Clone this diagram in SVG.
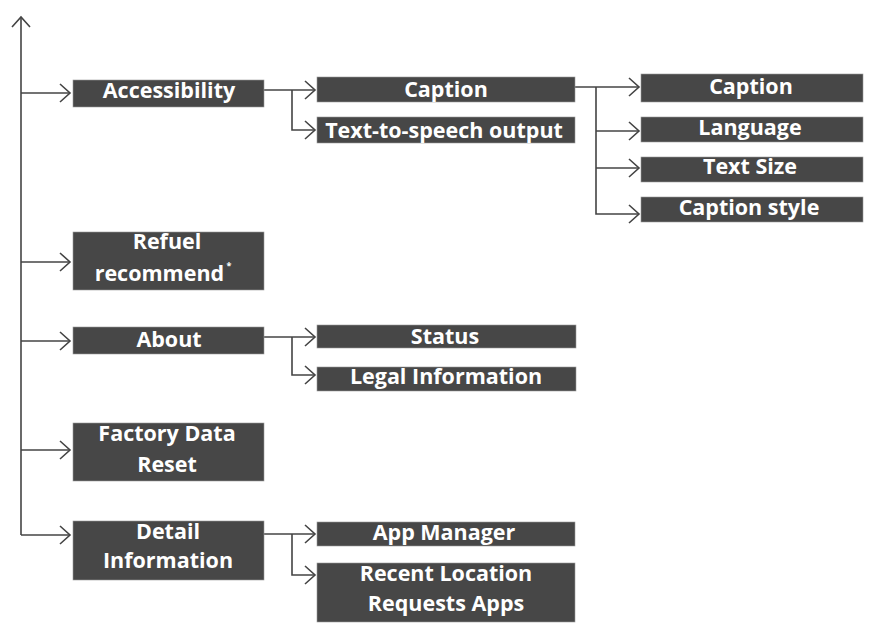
<svg xmlns="http://www.w3.org/2000/svg" width="870" height="626" viewBox="0 0 870 626">
<defs>
<marker id="arr" markerUnits="userSpaceOnUse" markerWidth="24" markerHeight="24" viewBox="-12 -12 24 24" refX="0" refY="0" orient="auto">
<path d="M-10,-9 L0,0 L-10,9" fill="none" stroke="#444" stroke-width="1.6"/>
</marker>
</defs>
<style>
.b{fill:#474747;stroke:#9a9a9a;stroke-width:0.6}
.t{fill:#fff;font-family:"Open Sans","Noto Sans","DejaVu Sans",sans-serif;font-weight:bold;font-size:21.5px;text-anchor:middle}
.c{fill:none;stroke:#444;stroke-width:1.6}
.a{marker-end:url(#arr)}
</style>
<rect width="870" height="626" fill="#fff"/>
<g id="connectors">
<path class="c a" d="M21,535 V17"/>
<path class="c a" d="M21,93 H70"/>
<path class="c a" d="M21,262 H70"/>
<path class="c a" d="M21,341 H70"/>
<path class="c a" d="M21,450 H70"/>
<path class="c a" d="M21,535 H70"/>
<path class="c a" d="M264,90 H315"/>
<path class="c a" d="M292,90 V130 H315"/>
<path class="c a" d="M264,337 H315"/>
<path class="c a" d="M292,337 V375 H315"/>
<path class="c a" d="M264,534 H315"/>
<path class="c a" d="M292,534 V575 H315"/>
<path class="c a" d="M575,87 H639"/>
<path class="c a" d="M596,87 V214 H639"/>
<path class="c a" d="M596,131 H639"/>
<path class="c a" d="M596,168 H639"/>
</g>
<g id="accessibility"><rect class="b" x="73" y="80" width="191" height="27"/><text class="t" x="169" y="98">Accessibility</text></g>
<g id="caption2"><rect class="b" x="317" y="77" width="258" height="25"/><text class="t" x="446" y="97">Caption</text></g>
<g id="tts"><rect class="b" x="317" y="117" width="258" height="26"/><text class="t" x="444" y="138">Text-to-speech output</text></g>
<g id="caption3"><rect class="b" x="641" y="74" width="222" height="28"/><text class="t" x="751" y="94">Caption</text></g>
<g id="language"><rect class="b" x="641" y="117" width="222" height="25"/><text class="t" x="750" y="135">Language</text></g>
<g id="textsize"><rect class="b" x="641" y="157" width="222" height="25"/><text class="t" x="750" y="174">Text Size</text></g>
<g id="captionstyle"><rect class="b" x="641" y="197" width="222" height="25"/><text class="t" x="749" y="215">Caption style</text></g>
<g id="refuel"><rect class="b" x="73" y="232" width="191" height="58"/><text class="t" x="167" y="249">Refuel</text><text class="t" x="163" y="281">recommend<tspan font-size="9" dy="-12"> *</tspan></text></g>
<g id="about"><rect class="b" x="73" y="327" width="191" height="27"/><text class="t" x="169" y="347">About</text></g>
<g id="status"><rect class="b" x="317" y="325" width="259" height="23"/><text class="t" x="445" y="344">Status</text></g>
<g id="legal"><rect class="b" x="317" y="367" width="259" height="24"/><text class="t" x="446" y="384">Legal Information</text></g>
<g id="factory"><rect class="b" x="73" y="423" width="191" height="58"/><text class="t" x="167" y="441">Factory Data</text><text class="t" x="167" y="472">Reset</text></g>
<g id="detail"><rect class="b" x="73" y="521" width="191" height="59"/><text class="t" x="168" y="539">Detail</text><text class="t" x="168" y="568">Information</text></g>
<g id="appmanager"><rect class="b" x="317" y="522" width="258" height="24"/><text class="t" x="444" y="540">App Manager</text></g>
<g id="recent"><rect class="b" x="317" y="563" width="258" height="59"/><text class="t" x="446" y="581">Recent Location</text><text class="t" x="446" y="611">Requests Apps</text></g>
</svg>
